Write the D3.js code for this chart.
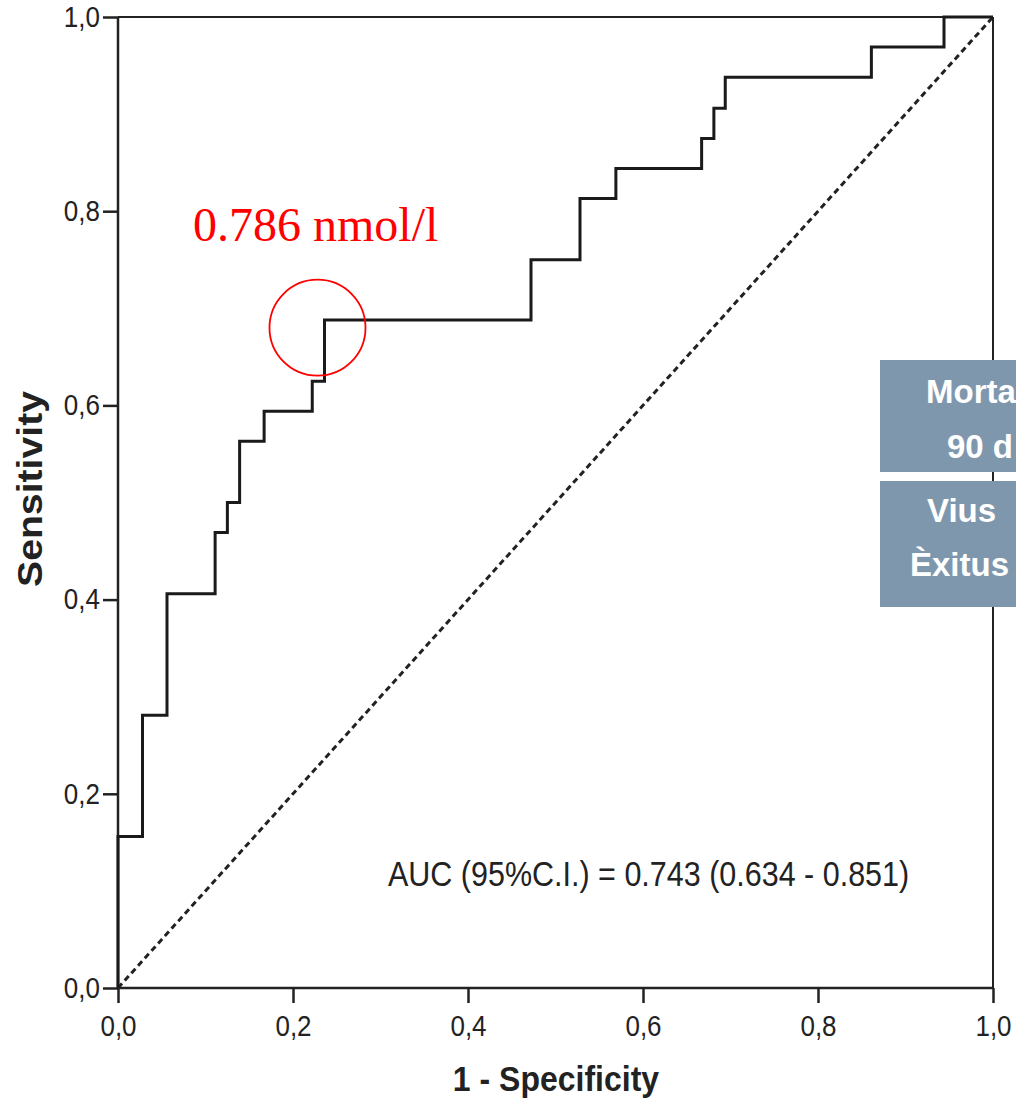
<!DOCTYPE html>
<html>
<head>
<meta charset="utf-8">
<script src="https://cdn.jsdelivr.net/npm/d3@7"></script>
<style>
  html, body { margin: 0; padding: 0; background: #fff; overflow: hidden; }
  svg { display: block; }
</style>
</head>
<body>
<svg id="chart" width="1016" height="1104"></svg>
<script>
// ROC curve corner points (1 - specificity, sensitivity)
const fpr = [0, 0, 0.028, 0.056, 0.111, 0.125, 0.139, 0.167, 0.222, 0.236, 0.472, 0.528, 0.569, 0.667, 0.681, 0.694, 0.861, 0.944, 1.0];
const tpr = [0, 0.156, 0.281, 0.406, 0.469, 0.500, 0.563, 0.594, 0.625, 0.688, 0.750, 0.813, 0.844, 0.875, 0.906, 0.938, 0.969, 1.0, 1.0];
const tickValues = [0, 0.2, 0.4, 0.6, 0.8, 1.0];
const tickLabels = ["0,0", "0,2", "0,4", "0,6", "0,8", "1,0"];
const cutoff = { fpr: 0.228, tpr: 0.68, label: "0.786 nmol/l" };
const aucText = "AUC (95%C.I.) = 0.743 (0.634 - 0.851)";
const xTitle = "1 - Specificity";
const yTitle = "Sensitivity";
const boxLines1 = ["Morta", "90 d"];
const boxLines2 = ["Vius", "Èxitus"];

const svg = d3.select("#chart");
const mL = 118, mR = 993, mT = 17, mB = 988;
const x = d3.scaleLinear().domain([0, 1]).range([mL, mR]);
const y = d3.scaleLinear().domain([0, 1]).range([mB, mT]);
const fmt = d => tickLabels[tickValues.findIndex(v => Math.abs(v - d) < 1e-9)];
const font = "'Liberation Sans', Arial, sans-serif";
const stretch = 1.12;

// frame (top & right)
svg.append("line").attr("x1", mL).attr("x2", mR).attr("y1", mT).attr("y2", mT)
  .attr("stroke", "#222").attr("stroke-width", 2);
svg.append("line").attr("x1", mR).attr("x2", mR).attr("y1", mT).attr("y2", mB)
  .attr("stroke", "#222").attr("stroke-width", 2);

// axes
const xAxis = d3.axisBottom(x).tickValues(tickValues).tickFormat(fmt).tickSize(15).tickPadding(9);
const yAxis = d3.axisLeft(y).tickValues(tickValues).tickFormat(fmt).tickSize(15).tickPadding(3);
const gx = svg.append("g").attr("transform", `translate(0,${mB})`).call(xAxis);
const gy = svg.append("g").attr("transform", `translate(${mL},0)`).call(yAxis);
[gx, gy].forEach(g => {
  g.select(".domain").attr("stroke", "#222").attr("stroke-width", 2.5);
  g.selectAll(".tick line").attr("stroke", "#222").attr("stroke-width", 2.5);
  g.selectAll(".tick text").attr("fill", "#222").style("font-family", font).style("font-size", "26px")
    .attr("transform", `scale(1,${stretch})`);
});
gx.select(".domain").attr("d", `M${mL},0H${mR}`);
gy.select(".domain").attr("d", `M0,${mT}V${mB}`);

// diagonal reference
svg.append("line")
  .attr("x1", x(0)).attr("y1", y(0)).attr("x2", x(1)).attr("y2", y(1))
  .attr("stroke", "#222").attr("stroke-width", 3).attr("stroke-dasharray", "6,4");

// ROC step curve
const pts = fpr.map((f, i) => [f, tpr[i]]);
const line = d3.line().x(d => x(d[0])).y(d => y(d[1])).curve(d3.curveStepAfter);
svg.append("path").datum(pts).attr("d", line)
  .attr("fill", "none").attr("stroke", "#1a1a1a").attr("stroke-width", 3).attr("stroke-linejoin", "miter");

// cutoff marker
svg.append("circle").attr("cx", x(cutoff.fpr)).attr("cy", y(cutoff.tpr)).attr("r", 48)
  .attr("fill", "none").attr("stroke", "#ff0000").attr("stroke-width", 1.8);
svg.append("text").attr("x", 193).attr("y", 241).text(cutoff.label)
  .attr("fill", "#ff0000").style("font-family", "'Liberation Serif', 'Times New Roman', serif").style("font-size", "48px");

// AUC text
svg.append("text").attr("transform", `translate(388,886) scale(1,${stretch})`).text(aucText)
  .attr("fill", "#222").style("font-family", font).style("font-size", "30.5px");

// axis titles
svg.append("text").attr("transform", `translate(556,1091) scale(1,${stretch})`).attr("text-anchor", "middle").text(xTitle)
  .attr("fill", "#222").style("font-family", font).style("font-size", "32px").style("font-weight", "bold");
svg.append("text").attr("transform", `translate(42,489) scale(1,${stretch}) rotate(-90)`).attr("text-anchor", "middle").text(yTitle)
  .attr("fill", "#222").style("font-family", font).style("font-size", "35px").style("font-weight", "bold");

// overlay boxes (cut by the right edge)
svg.append("rect").attr("x", 880).attr("y", 360).attr("width", 136).attr("height", 112).attr("fill", "#7f97ad");
svg.append("rect").attr("x", 880).attr("y", 481).attr("width", 136).attr("height", 126).attr("fill", "#7f97ad");
const bt = svg.append("g")
  .style("font-family", font).style("font-size", "33px").style("font-weight", "bold").attr("fill", "#fff");
bt.append("text").attr("x", 926).attr("y", 403).text(boxLines1[0]);
bt.append("text").attr("x", 947).attr("y", 458).text(boxLines1[1]);
bt.append("text").attr("x", 927).attr("y", 522).text(boxLines2[0]);
bt.append("text").attr("x", 910).attr("y", 576).text(boxLines2[1]);
</script>
</body>
</html>
